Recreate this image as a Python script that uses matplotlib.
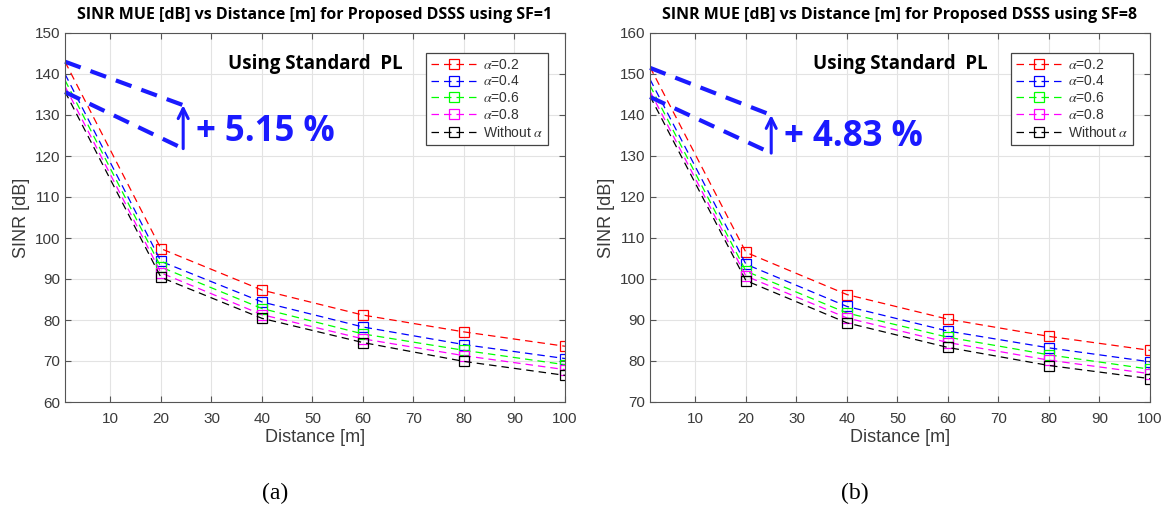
import matplotlib.pyplot as plt
import numpy as np

dist = [1, 20, 40, 60, 80, 100]
labels = [r'$\alpha$=0.2', r'$\alpha$=0.4', r'$\alpha$=0.6', r'$\alpha$=0.8', r'Without $\alpha$']
colors = ['#ff0000', '#0000ff', '#00ff00', '#ff00ff', '#000000']

# SF=1
sinr_sf1 = [
    [143.0, 97.4, 87.3, 81.2, 77.1, 73.6],
    [140.0, 94.3, 84.4, 78.3, 74.0, 70.6],
    [138.5, 92.9, 82.8, 76.6, 72.6, 69.1],
    [137.0, 91.5, 81.3, 75.4, 71.3, 67.9],
    [135.7, 90.4, 80.4, 74.5, 69.9, 66.5],
]
# SF=8
sinr_sf8 = [
    [151.7, 106.5, 96.2, 90.2, 86.0, 82.6],
    [148.7, 103.6, 93.3, 87.3, 83.2, 79.8],
    [147.2, 101.9, 91.7, 85.8, 81.5, 78.0],
    [145.8, 100.7, 90.5, 84.5, 80.2, 76.9],
    [144.6, 99.6, 89.3, 83.3, 78.9, 75.7],
]

plt.rcParams['font.family'] = ['Liberation Sans', 'DejaVu Sans']
plt.rcParams['mathtext.fontset'] = 'stix'

W, H = 1169, 512
fig = plt.figure(figsize=(W / 100, H / 100), dpi=100)

def px_axes(x0, x1, y0, y1):
    return fig.add_axes([x0 / W, 1 - y1 / H, (x1 - x0) / W, (y1 - y0) / H])

ax1 = px_axes(65, 565, 33, 402)
ax2 = px_axes(650, 1150, 33, 402)

def draw(ax, data, ylim, sf, up, low, pct, pct_y):
    for vals, c, lab in zip(data, colors, labels):
        ax.plot(dist, vals, '--', color=c, lw=0.9, dashes=(6, 4),
                marker='s', markevery=[1, 2, 3, 4, 5], ms=6.5, mfc='none',
                mew=0.9, label=lab)
    ax.set_xlim(1, 100)
    ax.set_ylim(*ylim)
    ax.set_xticks(np.arange(10, 101, 10))
    ax.set_yticks(np.arange(ylim[0], ylim[1] + 1, 10))
    ax.grid(True, color='#e3e3e3', lw=0.8)
    ax.tick_params(direction='in', top=True, right=True, length=4,
                   labelsize=11, labelcolor='#3a3a3a', color='#555555')
    ax.tick_params(axis='x', pad=7)
    for s in ax.spines.values():
        s.set_color('#555555')
    ax.set_title('SINR MUE [dB] vs Distance [m] for Proposed DSSS using SF=%d' % sf,
                 fontfamily='Open Sans', fontweight='bold', fontsize=11.5, pad=10)
    ax.set_xlabel('Distance [m]', fontsize=13, color='#3a3a3a', labelpad=2)
    ax.set_ylabel('SINR [dB]', fontsize=13, color='#3a3a3a', labelpad=3)
    ax.text(0.5, 0.915, 'Using Standard  PL', transform=ax.transAxes,
            fontfamily='Open Sans', fontweight='bold', fontsize=13.5,
            ha='center', va='center')
    # annotation lines
    ax.plot([1, up[0]], [up[1], up[2]], '--', color='#1a1aff', lw=3,
            dashes=(4, 2.5), clip_on=False)
    ax.plot([1, low[0]], [low[1], low[2]], '--', color='#1a1aff', lw=3,
            dashes=(4, 2.5), clip_on=False)
    ax.annotate('', xy=(up[0], up[2]), xytext=(up[0], low[2]),
                arrowprops=dict(arrowstyle='->', color='#1a1aff', lw=2.2,
                                mutation_scale=18, shrinkA=0, shrinkB=0))
    ax.text(up[0] + 2.5, pct_y, '+ ' + pct + ' %',
            fontfamily='Open Sans', fontweight='bold', fontsize=25,
            color='#1a1aff', ha='left', va='center')
    leg = ax.legend(loc='upper right', bbox_to_anchor=(0.98, 0.965),
                    fontsize=10, handlelength=3.3, handletextpad=0.4,
                    labelspacing=0.2, borderpad=0.35, fancybox=False,
                    framealpha=1, edgecolor='#444444')
    leg.get_frame().set_linewidth(0.9)
    for t in leg.get_texts():
        t.set_color('#333333')

draw(ax1, sinr_sf1, (60, 150), 1, (24.4, 143, 132.4), (24.4, 135.6, 121.8), '5.15', 125.8)
draw(ax2, sinr_sf8, (70, 160), 8, (25, 151.5, 140), (25, 144.4, 130.7), '4.83', 134.6)

fig.text(275 / W, 1 - 493 / H, '(a)', fontfamily='Liberation Serif',
         fontsize=17, ha='center', va='center')
fig.text(855 / W, 1 - 493 / H, '(b)', fontfamily='Liberation Serif',
         fontsize=17, ha='center', va='center')

fig.savefig('out.png', dpi=100)
